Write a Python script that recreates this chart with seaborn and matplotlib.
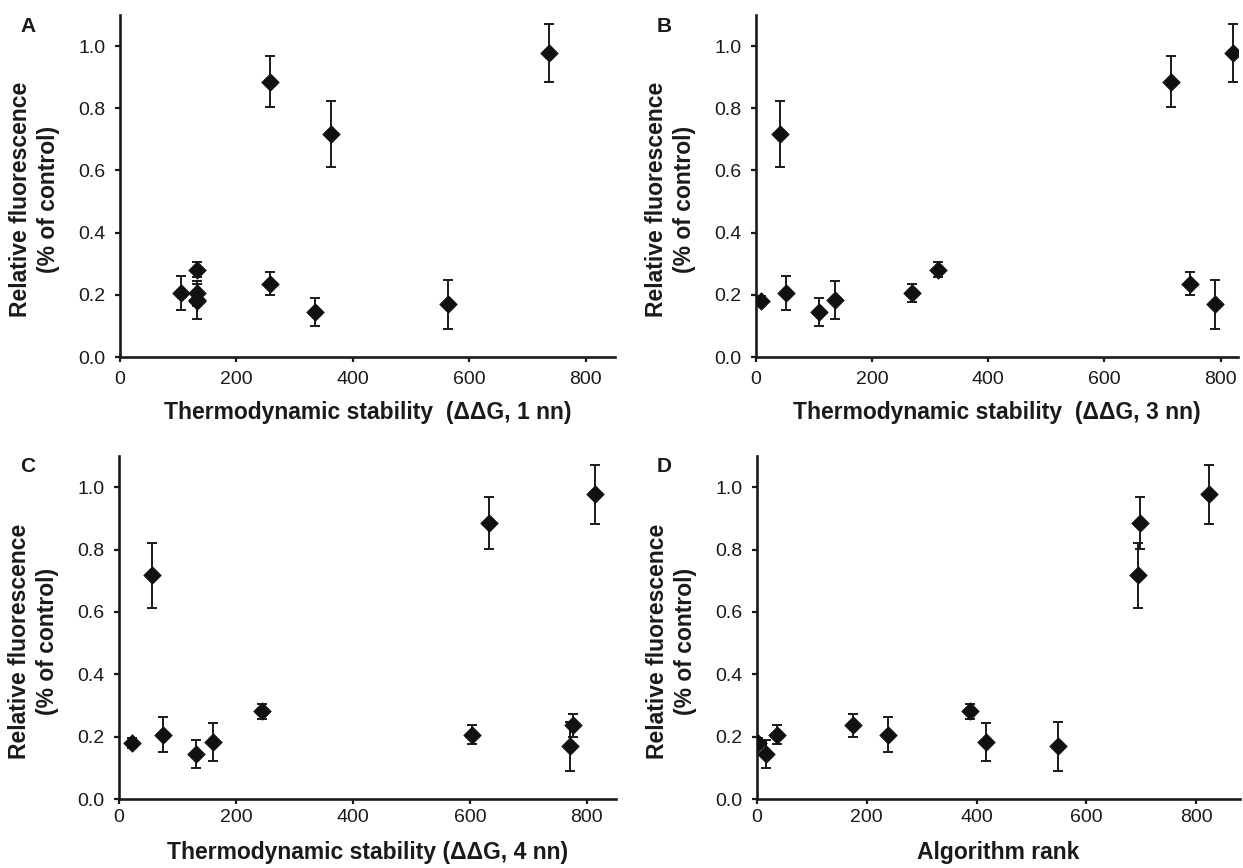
import numpy as np
import pandas as pd
import seaborn as sns
import matplotlib
matplotlib.use("Agg")
import matplotlib.pyplot as plt
from matplotlib.ticker import FormatStrFormatter

# relative fluorescence of the 11 constructs (same order in every panel)
rel_fluor = [0.180, 0.206, 0.145, 0.183, 0.206, 0.281, 0.236, 0.169, 0.717, 0.886, 0.977]
fluor_err = [0.015, 0.056, 0.045, 0.062, 0.030, 0.023, 0.036, 0.078, 0.105, 0.083, 0.094]

# x positions per panel
x_1nn = [133, 104, 334, 133, 133, 133, 257, 564, 363, 257, 737]
x_3nn = [9, 52, 109, 136, 269, 314, 747, 790, 42, 715, 822]
x_4nn = [22, 75, 131, 161, 604, 245, 777, 772, 56, 632, 814]
x_rank = [1, 238, 17, 417, 37, 388, 175, 549, 694, 698, 824]

panel_letters = ["A", "B", "C", "D"]
x_labels = [
    "Thermodynamic stability  (\u0394\u0394G, 1 nn)",
    "Thermodynamic stability  (\u0394\u0394G, 3 nn)",
    "Thermodynamic stability (\u0394\u0394G, 4 nn)",
    "Algorithm rank",
]
x_limits = [850, 830, 850, 880]
y_label = "Relative fluorescence\n(% of control)"

sns.set_style("ticks")
plt.rcParams["font.family"] = ["Liberation Sans", "DejaVu Sans"]

W, H = 1243, 868
fig = plt.figure(figsize=(W / 100, H / 100), dpi=100)

# axes boxes in pixels: left, top, right, bottom
boxes = [(120, 15, 615, 357), (756, 15, 1238, 357),
         (119, 456, 616, 799), (757, 456, 1240, 799)]
letter_pos = [(28, 26), (664, 26), (28, 467), (664, 467)]
x_pads = [6.5, 6.5, 3.6, 3.6]
xlabel_off = [44, 44, 42, 42]

ink = "#1a1a1a"

for i, xs in enumerate([x_1nn, x_3nn, x_4nn, x_rank]):
    l, t, r, b = boxes[i]
    ax = fig.add_axes([l / W, 1 - b / H, (r - l) / W, (b - t) / H])
    df = pd.DataFrame({"x": xs, "y": rel_fluor, "err": fluor_err})

    ax.errorbar(df["x"], df["y"], yerr=df["err"], fmt="none", ecolor=ink,
                elinewidth=1.4, capsize=3.6, capthick=1.4, zorder=2)
    sns.scatterplot(data=df, x="x", y="y", marker="D", s=80, color="#111111",
                    edgecolor="#111111", linewidth=0.5, ax=ax, zorder=3)

    ax.set_xlim(0, x_limits[i])
    ax.set_ylim(0, 1.1)
    ax.set_xticks([0, 200, 400, 600, 800])
    ax.set_yticks([0.0, 0.2, 0.4, 0.6, 0.8, 1.0])
    ax.yaxis.set_major_formatter(FormatStrFormatter("%.1f"))
    ax.tick_params(labelsize=14, length=3.6, width=1.6, colors=ink)
    ax.tick_params(axis="y", pad=7)
    ax.tick_params(axis="x", pad=x_pads[i])
    sns.despine(ax=ax)
    for sp in ["left", "bottom"]:
        ax.spines[sp].set_linewidth(1.9)
        ax.spines[sp].set_color(ink)

    ax.set_xlabel(x_labels[i], fontsize=16.5, fontweight="bold", color=ink)
    ax.set_ylabel(y_label, fontsize=16.5, fontweight="bold", color=ink,
                  linespacing=1.25)
    ax.xaxis.set_label_coords(0.5, -xlabel_off[i] / (b - t))
    ax.xaxis.label.set_va("top")
    ax.yaxis.set_label_coords(-60 / (r - l), 0.46)

    fig.text(letter_pos[i][0] / W, 1 - letter_pos[i][1] / H, panel_letters[i],
             fontsize=15, fontweight="bold", ha="center", va="center", color=ink)

fig.savefig("out.png", dpi=100)
